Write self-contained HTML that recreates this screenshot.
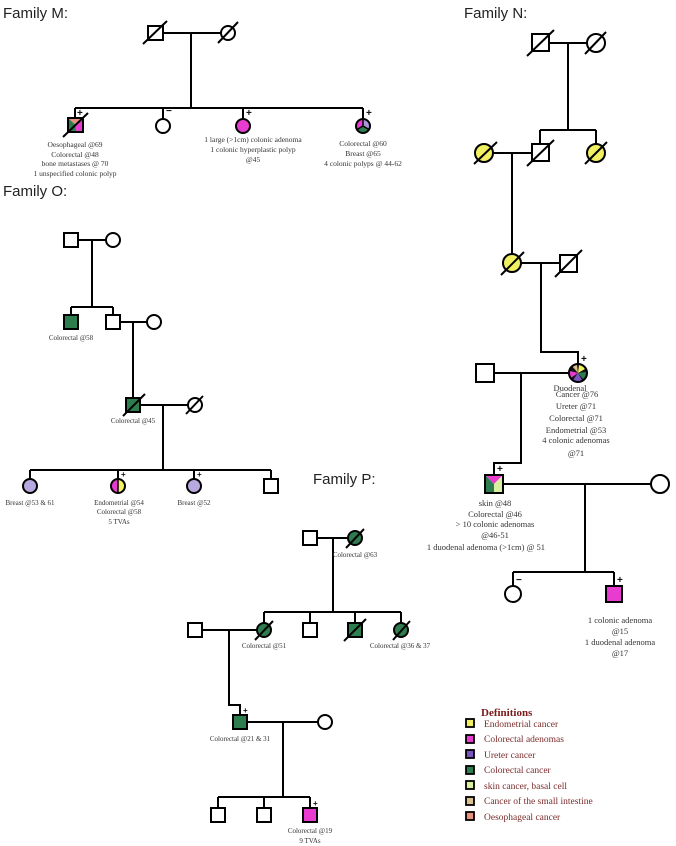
<!DOCTYPE html>
<html><head><meta charset="utf-8"><style>
html,body{margin:0;padding:0;background:#fff}
svg{display:block}
.t{font-family:"Liberation Serif",serif;font-size:7.5px;fill:#333;text-anchor:middle}
.h{font-family:"Liberation Sans",sans-serif;font-size:15px;fill:#222}
.l{font-family:"Liberation Serif",serif;font-size:9.5px;fill:#7a2a2a}
.p{font-family:"Liberation Sans",sans-serif;font-size:10px;font-weight:bold;fill:#111}
</style></head><body>
<svg width="676" height="846" viewBox="0 0 676 846" xmlns="http://www.w3.org/2000/svg">
<g stroke="#000" stroke-width="2" fill="none">
<!-- Family M -->
<path d="M163 33H221M191 33V108M75 108H363M75 108V118M163 108V118M243 108V118M363 108V118"/>
<rect x="148" y="26" width="15" height="14" fill="#fff"/>
<circle cx="228" cy="33" r="7" fill="#fff"/>
<path d="M143 44L167 21M218 43L238 22"/>
<circle cx="163" cy="126" r="7" fill="#fff"/>
<circle cx="243" cy="126" r="7" fill="#e83cd0"/>
</g>
<!-- M child1 -->
<polygon points="68,118 83,118 75.5,125" fill="#e59080"/>
<polygon points="68,118 75.5,125 75.5,132 68,132" fill="#2e7d4f"/>
<polygon points="83,118 75.5,125 75.5,132 83,132" fill="#e83cd0"/>
<rect x="68" y="118" width="15" height="14" fill="none" stroke="#000" stroke-width="2"/>
<path d="M63 137L88 113" stroke="#000" stroke-width="2"/>
<!-- M child4 -->
<path d="M363 126L363 119A7 7 0 0 0 357 129.5Z" fill="#e83cd0"/>
<path d="M363 126L363 119A7 7 0 0 1 369 129.5Z" fill="#a898d8"/>
<path d="M363 126L357 129.5A7 7 0 0 0 369 129.5Z" fill="#2e7d4f"/>
<circle cx="363" cy="126" r="7" fill="none" stroke="#000" stroke-width="2"/>
<path d="M363 126V119M363 126L357 129.5M363 126L369 129.5" stroke="#000" stroke-width="1.5"/>
<g class="p"><text x="77" y="116">+</text><text x="166" y="114">−</text><text x="246" y="116">+</text><text x="366" y="116">+</text></g>
<text class="h" x="3" y="18">Family M:</text>
<g class="t">
<text x="75" y="147">Oesophageal @69</text><text x="75" y="157">Colorectal @48</text><text x="75" y="166">bone metastases @ 70</text><text x="75" y="176">1 unspecified colonic polyp</text>
<text x="253" y="142">1 large  (&gt;1cm) colonic adenoma</text><text x="253" y="152">1 colonic hyperplastic polyp</text><text x="253" y="162">@45</text>
<text x="363" y="146">Colorectal @60</text><text x="363" y="156">Breast @65</text><text x="363" y="166">4 colonic polyps @ 44-62</text>
</g>

<!-- Family N -->
<text class="h" x="464" y="18">Family N:</text>
<g stroke="#000" stroke-width="2" fill="none">
<path d="M549 43H587M568 43V130M540 130H596M540 130V144M596 130V144"/>
<rect x="532" y="34" width="17" height="17" fill="#fff"/>
<circle cx="596" cy="43" r="9" fill="#fff"/>
<path d="M527 56L554 30M585 54L606 32"/>
<path d="M493 153H532M512 153V263"/>
<circle cx="484" cy="153" r="9" fill="#f0f060"/>
<rect x="532" y="144" width="17" height="17" fill="#fff"/>
<circle cx="596" cy="153" r="9" fill="#f0f060"/>
<path d="M474 164L497 142M527 166L554 140M585 164L607 142"/>
<path d="M521 263H559M541 263V352H578V364"/>
<circle cx="512" cy="263" r="9" fill="#f0f060"/>
<rect x="560" y="255" width="17" height="17" fill="#fff"/>
<path d="M501 275L524 252M555 277L582 250"/>
<path d="M494 373H569M521 373V463H494V475"/>
<rect x="476" y="364" width="18" height="18" fill="#fff"/>
<path d="M503 484H651M585 484V572M513 572H614M513 572V586M614 572V586"/>
<circle cx="660" cy="484" r="9" fill="#fff"/>
<circle cx="513" cy="594" r="8" fill="#fff"/>
<rect x="606" y="586" width="16" height="16" fill="#e83cd0"/>
</g>
<!-- N pie circle -->
<circle cx="578" cy="373" r="9" fill="#111"/>
<g>
<path d="M578 373L572 366A8 8 0 0 1 577 365Z" fill="#d8c090"/>
<path d="M578 373L579 365A8 8 0 0 1 585 369Z" fill="#f0f060"/>
<path d="M578 373L586 372A8 8 0 0 1 583 379Z" fill="#2e7d4f"/>
<path d="M578 373L582 380A8 8 0 0 1 573 380Z" fill="#7b55c0"/>
<path d="M578 373L571 378A8 8 0 0 1 570 371Z" fill="#e83cd0"/>
</g>
<circle cx="578" cy="373" r="9" fill="none" stroke="#000" stroke-width="2"/>
<!-- N square -->
<polygon points="485,475 503,475 494,484" fill="#e83cd0"/>
<polygon points="485,475 494,484 494,493 485,493" fill="#2e7d4f"/>
<polygon points="503,475 494,484 494,493 503,493" fill="#d8f0a0"/>
<rect x="485" y="475" width="18" height="18" fill="none" stroke="#000" stroke-width="2"/>
<g class="p"><text x="581" y="362">+</text><text x="497" y="472">+</text><text x="516" y="583">−</text><text x="617" y="583">+</text></g>
<g class="t" style="font-size:8.5px">
<text x="570" y="391">Duodenal</text><text x="577" y="397">Cancer @76</text><text x="576" y="409">Ureter @71</text><text x="576" y="421">Colorectal @71</text><text x="576" y="433">Endometrial @53</text><text x="576" y="443">4 colonic adenomas</text><text x="576" y="456">@71</text>
<text x="495" y="506">skin @48</text><text x="495" y="517">Colorectal @46</text><text x="495" y="527">&gt; 10 colonic adenomas</text><text x="495" y="538">@46-51</text><text x="486" y="550">1 duodenal adenoma (&gt;1cm) @ 51</text>
<text x="620" y="623">1 colonic adenoma</text><text x="620" y="634">@15</text><text x="620" y="645">1 duodenal adenoma</text><text x="620" y="656">@17</text>
</g>

<!-- Family O -->
<text class="h" x="3" y="196">Family O:</text>
<g stroke="#000" stroke-width="2" fill="none">
<path d="M78 240H106M92 240V307M71 307H113M71 307V315M113 307V315"/>
<rect x="64" y="233" width="14" height="14" fill="#fff"/>
<circle cx="113" cy="240" r="7" fill="#fff"/>
<rect x="64" y="315" width="14" height="14" fill="#2e7d4f"/>
<rect x="106" y="315" width="14" height="14" fill="#fff"/>
<path d="M120 322H147M133 322V398"/>
<circle cx="154" cy="322" r="7" fill="#fff"/>
<rect x="126" y="398" width="14" height="14" fill="#2e7d4f"/>
<path d="M123 416L145 394"/>
<path d="M140 405H188M163 405V470M30 470H271M30 470V479M118 470V479M194 470V479M271 470V479"/>
<circle cx="195" cy="405" r="7" fill="#fff"/>
<path d="M186 414L203 396"/>
<circle cx="30" cy="486" r="7" fill="#b8a8e0"/>
<circle cx="194" cy="486" r="7" fill="#b8a8e0"/>
<rect x="264" y="479" width="14" height="14" fill="#fff"/>
</g>
<path d="M118 479A7 7 0 0 0 118 493Z" fill="#e83cd0"/>
<path d="M118 479A7 7 0 0 1 118 493Z" fill="#f0f060"/>
<circle cx="118" cy="486" r="7" fill="none" stroke="#000" stroke-width="2"/>
<path d="M118 479V493" stroke="#000" stroke-width="1.5"/>
<g class="p" style="font-size:8px"><text x="121" y="477">+</text><text x="197" y="477">+</text></g>
<g class="t" style="font-size:7px">
<text x="71" y="340">Colorectal @58</text><text x="133" y="423">Colorectal @45</text>
<text x="30" y="505">Breast @53  &amp; 61</text>
<text x="119" y="505">Endometrial @54</text><text x="119" y="514">Colorectal @58</text><text x="119" y="524">5 TVAs</text>
<text x="194" y="505">Breast @52</text>
</g>

<!-- Family P -->
<text class="h" x="313" y="484">Family P:</text>
<g stroke="#000" stroke-width="2" fill="none">
<path d="M317 538H348M333 538V612M264 612H401M264 612V623M310 612V623M355 612V623M401 612V623"/>
<rect x="303" y="531" width="14" height="14" fill="#fff"/>
<circle cx="355" cy="538" r="7" fill="#2e7d4f"/>
<path d="M346 548L364 529"/>
<path d="M202 630H257M229 630V705H240V715"/>
<rect x="188" y="623" width="14" height="14" fill="#fff"/>
<circle cx="264" cy="630" r="7" fill="#2e7d4f"/>
<rect x="303" y="623" width="14" height="14" fill="#fff"/>
<rect x="348" y="623" width="14" height="14" fill="#2e7d4f"/>
<circle cx="401" cy="630" r="7" fill="#2e7d4f"/>
<path d="M255 640L273 621M344 641L366 619M393 640L410 621"/>
<path d="M247 722H318M283 722V797M218 797H310M218 797V808M264 797V808M310 797V808"/>
<rect x="233" y="715" width="14" height="14" fill="#2e7d4f"/>
<circle cx="325" cy="722" r="7" fill="#fff"/>
<rect x="211" y="808" width="14" height="14" fill="#fff"/>
<rect x="257" y="808" width="14" height="14" fill="#fff"/>
<rect x="303" y="808" width="14" height="14" fill="#e83cd0"/>
</g>
<g class="p" style="font-size:8px"><text x="243" y="713">+</text><text x="313" y="806">+</text></g>
<g class="t" style="font-size:7px">
<text x="355" y="557">Colorectal @63</text><text x="264" y="648">Colorectal @51</text><text x="400" y="648">Colorectal @36  &amp; 37</text>
<text x="240" y="741">Colorectal @21  &amp; 31</text><text x="310" y="833">Colorectal @19</text><text x="310" y="843">9 TVAs</text>
</g>

<!-- Legend -->
<text x="481" y="716" style="font-family:'Liberation Serif',serif;font-size:11px;font-weight:bold;fill:#7a1a1a">Definitions</text>
<g stroke="#000" stroke-width="1.8">
<rect x="466" y="719" width="8" height="8" fill="#f0f060"/>
<rect x="466" y="735" width="8" height="8" fill="#e83cd0"/>
<rect x="466" y="750" width="8" height="8" fill="#7b55c0"/>
<rect x="466" y="766" width="8" height="8" fill="#2e7d4f"/>
<rect x="466" y="781" width="8" height="8" fill="#d8f0a0"/>
<rect x="466" y="797" width="8" height="8" fill="#d8c090"/>
<rect x="466" y="812" width="8" height="8" fill="#e59080"/>
</g>
<g class="l">
<text x="484" y="727">Endometrial cancer</text>
<text x="484" y="742">Colorectal adenomas</text>
<text x="484" y="758">Ureter cancer</text>
<text x="484" y="773">Colorectal cancer</text>
<text x="484" y="789">skin cancer, basal cell</text>
<text x="484" y="804">Cancer of the small intestine</text>
<text x="484" y="820">Oesophageal cancer</text>
</g>
</svg>
</body></html>
